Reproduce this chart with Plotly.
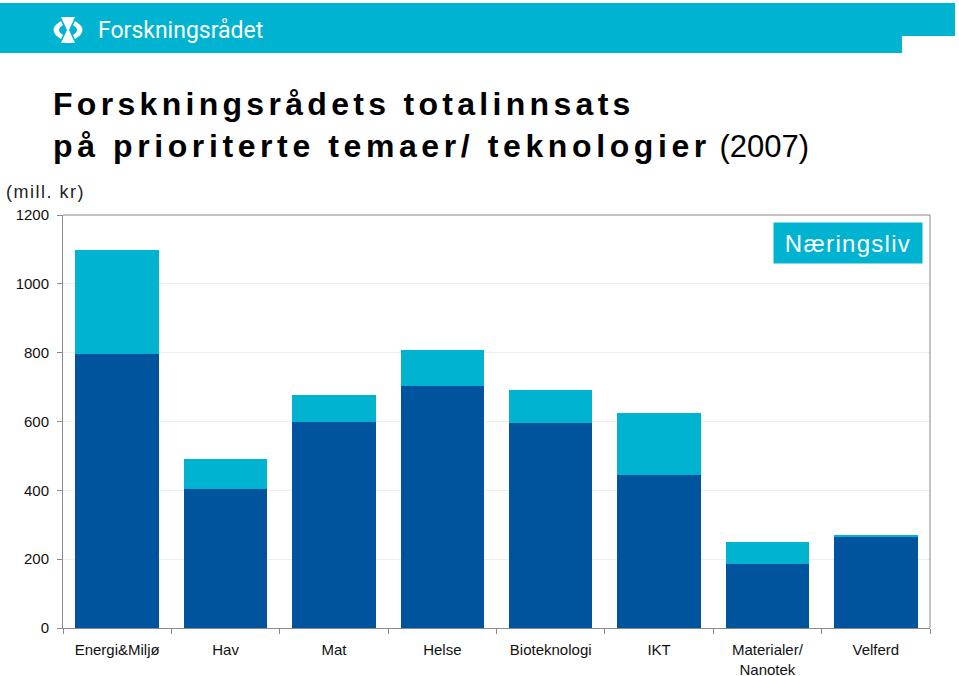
import plotly.graph_objects as go

# Data (mill. kr)
categories = ['Energi&Miljø', 'Hav', 'Mat', 'Helse', 'Bioteknologi', 'IKT',
              'Materialer/<br>Nanotek', 'Velferd']
forskningsradet = [796, 404, 598, 703, 596, 444, 186, 266]
naeringsliv = [302, 87, 79, 105, 95, 181, 64, 4]
y_ticks = [0, 200, 400, 600, 800, 1000, 1200]

DARK = '#00549E'
CYAN = '#00B3D1'

W, H = 959, 676
L, R, T, B = 63, 930, 215, 628


def px(x):
    return (x - L) / (R - L)


def py(y):
    return (B - y) / (B - T)


fig = go.Figure()

fig.add_trace(go.Bar(
    x=categories,
    y=forskningsradet,
    name='Forskningsrådet',
    marker=dict(color=DARK, line=dict(width=0)),
))
fig.add_trace(go.Bar(
    x=categories,
    y=naeringsliv,
    name='Næringsliv',
    marker=dict(color=CYAN, line=dict(width=0)),
))

shapes = [
    # header band
    dict(type='rect', xref='paper', yref='paper',
         x0=px(0), x1=px(902), y0=py(53), y1=py(3),
         fillcolor=CYAN, line=dict(width=0), layer='below'),
    dict(type='rect', xref='paper', yref='paper',
         x0=px(902), x1=px(955), y0=py(36), y1=py(3),
         fillcolor=CYAN, line=dict(width=0), layer='below'),
    # logo icon: hourglass + side arcs
    dict(type='path', xref='paper', yref='paper',
         path='M {} {} L {} {} L {} {} L {} {} L {} {} L {} {} Z'.format(
             px(61), py(17), px(75), py(17), px(69), py(30),
             px(75), py(43), px(61), py(43), px(67), py(30)),
         fillcolor='white', line=dict(width=0)),
    dict(type='path', xref='paper', yref='paper',
         path='M {} {} Q {} {} {} {} L {} {} Q {} {} {} {} Z'.format(
             px(61), py(21), px(46), py(30), px(61), py(39),
             px(63), py(35), px(55), py(30), px(63), py(25)),
         fillcolor='white', line=dict(width=0)),
    dict(type='path', xref='paper', yref='paper',
         path='M {} {} Q {} {} {} {} L {} {} Q {} {} {} {} Z'.format(
             px(75), py(21), px(90), py(30), px(75), py(39),
             px(73), py(35), px(81), py(30), px(73), py(25)),
         fillcolor='white', line=dict(width=0)),
    # plot frame top and right
    dict(type='line', xref='paper', yref='paper', x0=0, x1=1, y0=1, y1=1,
         line=dict(color='#8a8a8a', width=1)),
    dict(type='line', xref='paper', yref='paper', x0=1, x1=1, y0=0, y1=1,
         line=dict(color='#8a8a8a', width=1)),
]

annotations = [
    dict(text='Forskningsrådet', xref='paper', yref='paper',
         x=px(96), y=py(30), xanchor='left', yanchor='middle', showarrow=False,
         font=dict(family='Roboto, Arial', size=23, color='white')),
    dict(text='<span style="letter-spacing:4.3px"><b>Forskningsrådets totalinnsats</b></span>',
         xref='paper', yref='paper', x=px(51), y=py(104),
         xanchor='left', yanchor='middle', showarrow=False,
         font=dict(family='Liberation Sans, Arial', size=32, color='black')),
    dict(text='<span style="letter-spacing:4.6px"><b>på prioriterte temaer/ teknologier</b></span>'
              '<span style="font-size:31px"> (2007)</span>',
         xref='paper', yref='paper', x=px(51), y=py(146),
         xanchor='left', yanchor='middle', showarrow=False,
         font=dict(family='Liberation Sans, Arial', size=32, color='black')),
    dict(text='<span style="letter-spacing:1.5px">(mill. kr)</span>',
         xref='paper', yref='paper', x=px(4), y=py(192),
         xanchor='left', yanchor='middle', showarrow=False,
         font=dict(family='Liberation Sans, Arial', size=18, color='#222222')),
    dict(text='<span style="letter-spacing:1.3px">Næringsliv</span>',
         xref='paper', yref='paper', x=px(848), y=py(243),
         xanchor='center', yanchor='middle', showarrow=False,
         bgcolor=CYAN, width=146, height=38,
         font=dict(family='Liberation Sans, Arial', size=24, color='white')),
]

fig.update_layout(
    barmode='stack',
    bargap=0.23,
    width=W,
    height=H,
    margin=dict(l=L, r=W - R, t=T, b=H - B, pad=0),
    paper_bgcolor='white',
    plot_bgcolor='white',
    showlegend=False,
    shapes=shapes,
    annotations=annotations,
    font=dict(family='Liberation Sans, Arial', color='#111111'),
)

fig.update_xaxes(
    showline=True, linecolor='#8a8a8a', linewidth=1,
    ticks='outside', tickson='boundaries', ticklen=5, tickcolor='#8a8a8a',
    tickfont=dict(size=15, color='#111111'),
    ticklabelstandoff=8,
    showgrid=False,
    automargin=False,
)
fig.update_yaxes(
    range=[0, 1200], tickvals=y_ticks,
    showline=True, linecolor='#8a8a8a', linewidth=1,
    ticks='outside', ticklen=5, tickcolor='#8a8a8a',
    tickfont=dict(size=15, color='#111111'),
    ticklabelstandoff=5,
    showgrid=True, gridcolor='#efefef', gridwidth=1,
    zeroline=False,
    automargin=False,
)

# the page is photographed from its top-left corner, so drop the body margin
fig.write_html('out.html', config={'displayModeBar': False},
               post_script="document.body.style.margin='0';")
